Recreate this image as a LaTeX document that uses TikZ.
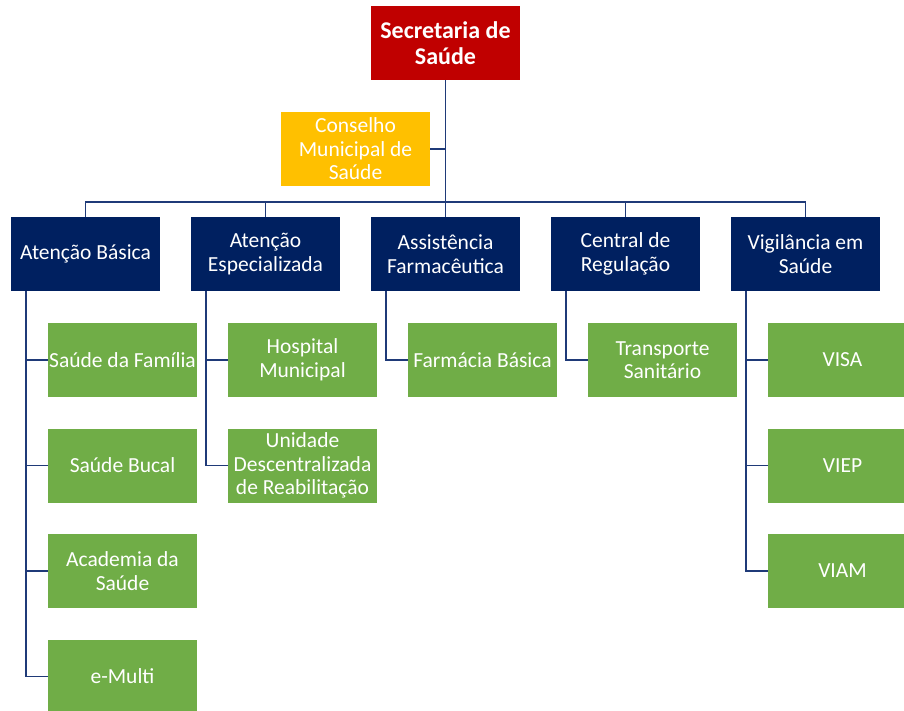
\documentclass[tikz,border=0pt]{standalone}
\usepackage{fontspec}
\setmainfont{Carlito}
\definecolor{cred}{HTML}{C00000}
\definecolor{cgold}{HTML}{FFC000}
\definecolor{cnavy}{HTML}{002060}
\definecolor{cgreen}{HTML}{70AD47}
\definecolor{cline}{HTML}{1F3A78}
\begin{document}
\begin{tikzpicture}[x=1pt,y=-1pt,
  box/.style={minimum width=149pt,minimum height=74pt,inner sep=0pt,align=center,text=white,font=\fontsize{21.5}{23.5}\selectfont},
  topbox/.style={box,fill=cred,font=\bfseries\fontsize{24}{26.5}\selectfont},
  goldbox/.style={box,fill=cgold},
  navybox/.style={box,fill=cnavy},
  greenbox/.style={box,fill=cgreen},
  conn/.style={draw=cline,line width=1.8pt}]
\useasboundingbox (0,0) rectangle (904,710);
\node[topbox] (sec) at (445.5,43) {Secretaria de\\Saúde};
\node[goldbox] (cons) at (355.5,149) {Conselho\\Municipal de\\Saúde};
\coordinate (bar) at (445.5,202);
\node[navybox] (ab) at (85.5,254) {Atenção Básica};
\node[navybox] (ae) at (265.5,254) {Atenção\\Especializada};
\node[navybox] (af) at (445.5,254) {Assistência\\Farmacêutica};
\node[navybox] (cr) at (625.5,254) {Central de\\Regulação};
\node[navybox] (vs) at (805.5,254) {Vigilância em\\Saúde};
\node[greenbox] (sf) at (122.5,360) {Saúde da Família};
\node[greenbox] (sb) at (122.5,465.5) {Saúde Bucal};
\node[greenbox] (acs) at (122.5,571) {Academia da\\Saúde};
\node[greenbox] (em) at (122.5,676.5) {e-Multi};
\node[greenbox] (hm) at (302.5,360) {Hospital\\Municipal};
\node[greenbox] (ud) at (302.5,465.5) {Unidade\\Descentralizada\\de Reabilitação};
\node[greenbox] (fb) at (482.5,360) {Farmácia Básica};
\node[greenbox] (ts) at (662.5,360) {Transporte\\Sanitário};
\node[greenbox] (visa) at (842.5,360) {VISA};
\node[greenbox] (viep) at (842.5,465.5) {VIEP};
\node[greenbox] (viam) at (842.5,571) {VIAM};
% connectors
\draw[conn] (cons.east) -- (cons.east -| sec.south);
\foreach \n in {ab,ae,af,cr,vs}{
  \draw[conn] (sec.south) -- (sec.south |- bar) -| (\n.north);
}
\foreach \p/\c in {ab/sf,ab/sb,ab/acs,ab/em,ae/hm,ae/ud,af/fb,cr/ts,vs/visa,vs/viep,vs/viam}{
  \draw[conn] ([xshift=15pt]\p.south west) |- (\c.west);
}
\end{tikzpicture}
\end{document}
